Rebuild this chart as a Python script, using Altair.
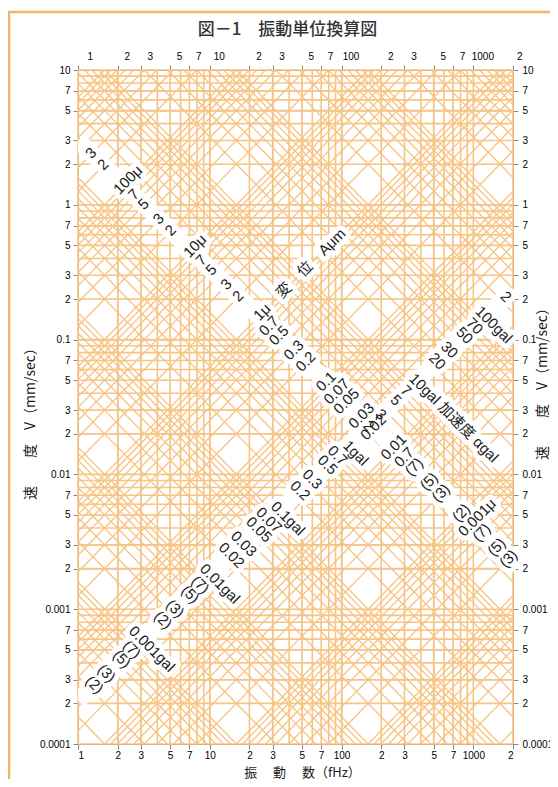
import json
import math
import altair as alt
import pandas as pd

# ---------------- data ----------------
F_MIN, F_MAX = 1, 2000          # frequency domain (Hz)
V_MIN, V_MAX = 0.0001, 10       # velocity domain (mm/sec)

freq_ticks = [1, 2, 3, 5, 7, 10, 20, 30, 50, 70, 100, 200, 300, 500, 700, 1000, 2000]
freq_labels = ["1", "2", "3", "5", "7", "10", "2", "3", "5", "7", "100",
               "2", "3", "5", "7", "1000", "2"]
vel_ticks = [10, 7, 5, 3, 2, 1, 0.7, 0.5, 0.3, 0.2, 0.1, 0.07, 0.05, 0.03, 0.02,
             0.01, 0.007, 0.005, 0.003, 0.002, 0.001, 0.0007, 0.0005, 0.0003,
             0.0002, 0.0001]
vel_labels = ["10", "7", "5", "3", "2", "1", "7", "5", "3", "2", "0.1", "7", "5",
              "3", "2", "0.01", "7", "5", "3", "2", "0.001", "7", "5", "3", "2",
              "0.0001"]

grid_digits = [1, 2, 3, 4, 5, 6, 7, 8, 9]
freq_decades = [1, 10, 100, 1000]
vel_decades = [0.0001, 0.001, 0.01, 0.1, 1]
disp_decades = [0.00001, 0.0001, 0.001, 0.01, 0.1, 1, 10, 100, 1000]   # μm
acc_decades = [0.0001, 0.001, 0.01, 0.1, 1, 10, 100, 1000, 10000]      # gal

# label bands: (frequency, velocity) end points
disp_band = [(1, 3.0), (2000, 0.0022)]
acc_band = [(1, 0.00021), (2000, 0.233)]

disp_label_values = [300, 200, 100, 70, 50, 30, 20, 10, 7, 5, 3, 2, 1,
                     0.7, 0.5, 0.3, 0.2, 0.1, 0.07, 0.05, 0.03, 0.02, 0.01,
                     0.007, 0.005, 0.003, 0.002, 0.001, 0.0007, 0.0005, 0.0003, 0.0002]
disp_label_texts = ["3", "2", "100μ", "7", "5", "3", "2", "10μ", "7", "5", "3", "2",
                    "1μ　変　位　Aμm", "0.7", "0.5", "0.3", "0.2", "0.1", "0.07", "0.05",
                    "0.03", "0.02", "0.01", "0.7", "(7)", "(5)", "(3)", "(2)",
                    "0.001μ", "(7)", "(5)", "(3)"]

acc_label_values = [0.0002, 0.0003, 0.0005, 0.0007, 0.001, 0.002, 0.003, 0.005, 0.007,
                    0.01, 0.02, 0.03, 0.05, 0.07, 0.1, 0.2, 0.3, 0.5, 0.7, 1, 2, 3, 5, 7,
                    10, 20, 30, 50, 70, 100, 200]
acc_label_texts = ["(2)", "(3)", "(5)", "(7)", "0.001gal", "(2)", "(3)", "(5)", "(7)",
                   "0.01gal", "0.02", "0.03", "0.05", "0.07", "0.1gal", "0.2", "0.3",
                   "0.5", "0.7", "1gal", "2", "3", "5", "7", "10gal 加速度 αgal",
                   "20", "30", "50", "70", "100gal", "2"]

TITLE = "図－1　振動単位換算図"
X_TITLE = "振　 動　 数（fHz）"
Y_TITLE = "速　　度　V（mm/sec）"

# ---------------- styling ----------------
GRID = "#F8C483"
FRAME = "#F2B468"
INK = "#1b1b1b"
NUM_FONT = "Liberation Sans Narrow, Liberation Sans, Noto Sans CJK JP, sans-serif"
CJK_FONT = "Noto Sans CJK JP, sans-serif"
LFS = 15  # diagonal label font size
TITLE_STYLE = dict(titleFont=CJK_FONT, titleFontSize=14, titleFontWeight=400,
                   titleColor=INK, titleBaseline="middle", titleAlign="center")

TWO_PI = 2 * math.pi
L = math.log10

xs = alt.Scale(type="log", domain=[F_MIN, F_MAX], nice=False)
ys = alt.Scale(type="log", domain=[V_MIN, V_MAX], nice=False)
XF = alt.X("f:Q", scale=xs, axis=None)
YV = alt.Y("V:Q", scale=ys, axis=None)

freq_grid = [d * dec for dec in freq_decades for d in grid_digits if d * dec <= F_MAX]
vel_grid = [d * dec for dec in vel_decades for d in grid_digits] + [V_MAX]


def disp_c(A):          # V = c * f   (A in μm, V in mm/s)
    return TWO_PI * A / 1000.0


def acc_k(a):           # V = k / f   (a in gal, V in mm/s)
    return 10.0 * a / TWO_PI


diag_rows = []
for dec in disp_decades:
    for d in grid_digits:
        A = d * dec
        c = disp_c(A)
        lo, hi = max(F_MIN, V_MIN / c), min(F_MAX, V_MAX / c)
        if lo < hi:
            diag_rows += [{"id": f"d{A}", "f": lo, "V": c * lo},
                          {"id": f"d{A}", "f": hi, "V": c * hi}]
for dec in acc_decades:
    for d in grid_digits:
        a = d * dec
        k = acc_k(a)
        lo, hi = max(F_MIN, k / V_MAX), min(F_MAX, k / V_MIN)
        if lo < hi:
            diag_rows += [{"id": f"a{a}", "f": lo, "V": k / lo},
                          {"id": f"a{a}", "f": hi, "V": k / hi}]
diag_df = pd.DataFrame(diag_rows)

band_df = pd.DataFrame(
    [{"id": "disp", "f": f, "V": v} for f, v in disp_band]
    + [{"id": "acc", "f": f, "V": v} for f, v in acc_band]
)


def band_line(band):
    (f0, v0), (f1, v1) = band
    m = (L(v1) - L(v0)) / (L(f1) - L(f0))
    return L(v0) - m * L(f0), m


db0, dm = band_line(disp_band)
ab0, am = band_line(acc_band)

disp_rows = []
for val, txt in zip(disp_label_values, disp_label_texts):
    lf = (db0 - L(disp_c(val))) / (1 - dm)
    disp_rows.append({"f": 10 ** lf, "V": 10 ** (db0 + dm * lf), "t": txt})
acc_rows = []
for val, txt in zip(acc_label_values, acc_label_texts):
    lf = (L(acc_k(val)) - ab0) / (1 + am)
    acc_rows.append({"f": 10 ** lf, "V": 10 ** (ab0 + am * lf), "t": txt})


def numw(s):
    w = 0.0
    for ch in s:
        if ch in "0123456789":
            w += 0.456 * LFS
        elif ch == ".":
            w += 0.23 * LFS
        else:
            break
    return w


def label_layers(rows, angle, dy):
    plain = [r for r in rows if not any(u in r["t"] for u in ("μ", "gal"))]
    suff = [r for r in rows if any(u in r["t"] for u in ("μ", "gal"))]
    out_halo, out_text = [], []
    enc = dict(x=XF, y=YV, text="t:N")
    common = dict(angle=angle, font=NUM_FONT, fontSize=LFS, baseline="middle", dy=dy)
    base = alt.Chart(pd.DataFrame(plain))
    out_halo.append(base.mark_text(align="center", color="white", stroke="white",
                                   strokeWidth=10, strokeJoin="round", **common)
                    .encode(**enc))
    out_text.append(base.mark_text(align="center", color=INK, **common).encode(**enc))
    for r in suff:
        b = alt.Chart(pd.DataFrame([r]))
        dx = -numw(r["t"]) / 2
        out_halo.append(b.mark_text(align="left", dx=dx, color="white", stroke="white",
                                    strokeWidth=10, strokeJoin="round", **common)
                        .encode(**enc))
        out_text.append(b.mark_text(align="left", dx=dx, color=INK, **common)
                        .encode(**enc))
    return out_halo, out_text


dh, dt = label_layers(disp_rows, 315, -1)
ah, at = label_layers(acc_rows, 45, -6)


def lab_expr(values, labels):
    return f"{json.dumps(labels, ensure_ascii=False)}[indexof({json.dumps(values)}, datum.value)]"


vlines = alt.Chart(pd.DataFrame({"f": freq_grid})).mark_rule(
    color=GRID, strokeWidth=1.6).encode(
    x=alt.X("f:Q", scale=xs, axis=alt.Axis(
        orient="bottom", values=freq_ticks, labelExpr=lab_expr(freq_ticks, freq_labels),
        title=X_TITLE, titleX=224, titleY=28, labelPadding=1,
        **{**TITLE_STYLE, "titleFontSize": 13})))

hlines = alt.Chart(pd.DataFrame({"V": vel_grid})).mark_rule(
    color=GRID, strokeWidth=1.6).encode(
    y=alt.Y("V:Q", scale=ys, axis=alt.Axis(
        orient="left", values=vel_ticks, labelExpr=lab_expr(vel_ticks, vel_labels),
        title=Y_TITLE, titleAngle=270, titleX=-48, titleY=350, labelPadding=3,
        **TITLE_STYLE)))

top_axis = alt.Chart(pd.DataFrame({"f": freq_ticks})).mark_rule(opacity=0).encode(
    x=alt.X("f:Q", scale=xs, axis=alt.Axis(
        orient="top", values=freq_ticks, labelExpr=lab_expr(freq_ticks, freq_labels),
        title=None, labelOffset=9, labelPadding=4)))

right_axis = alt.Chart(pd.DataFrame({"V": vel_ticks})).mark_rule(opacity=0).encode(
    y=alt.Y("V:Q", scale=ys, axis=alt.Axis(
        orient="right", values=vel_ticks, labelExpr=lab_expr(vel_ticks, vel_labels),
        title=Y_TITLE, titleAngle=270, titleX=29, titleY=310, labelPadding=4,
        **TITLE_STYLE)))

diags = alt.Chart(diag_df).mark_line(color=GRID, strokeWidth=1.35, clip=True).encode(
    x=XF, y=YV, detail="id:N")

bands = alt.Chart(band_df).mark_line(color="white", strokeWidth=17, clip=True).encode(
    x=XF, y=YV, detail="id:N")

frame_df = pd.DataFrame({"k": [0]})
frame_left = alt.Chart(frame_df).mark_rule(color=FRAME, strokeWidth=2.5).encode(
    x=alt.value(-69), y=alt.value(-58), y2=alt.value(720))
frame_top = alt.Chart(frame_df).mark_rule(color=FRAME, strokeWidth=2.5).encode(
    x=alt.value(-70), x2=alt.value(485), y=alt.value(-58))

chart = alt.layer(
    vlines, hlines, diags, bands, *dh, *ah, *dt, *at, top_axis, right_axis,
    frame_left, frame_top
).resolve_axis(x="independent", y="independent").properties(
    width=435, height=674,
    autosize=alt.AutoSizeParams(type="none"),
    padding={"left": 70, "top": 62, "right": 37, "bottom": 35},
    title=alt.TitleParams(TITLE, anchor="middle", font=CJK_FONT, fontSize=17,
                          fontWeight=500, color="#333333", dx=-8, offset=-28),
).configure_view(stroke=GRID, strokeWidth=3).configure_axis(
    grid=False, ticks=False, domain=False, labelFont=NUM_FONT, labelFontSize=15,
    labelColor=INK
).configure(background="white")

chart.save("out.html", embed_options={"renderer": "svg", "actions": False})
